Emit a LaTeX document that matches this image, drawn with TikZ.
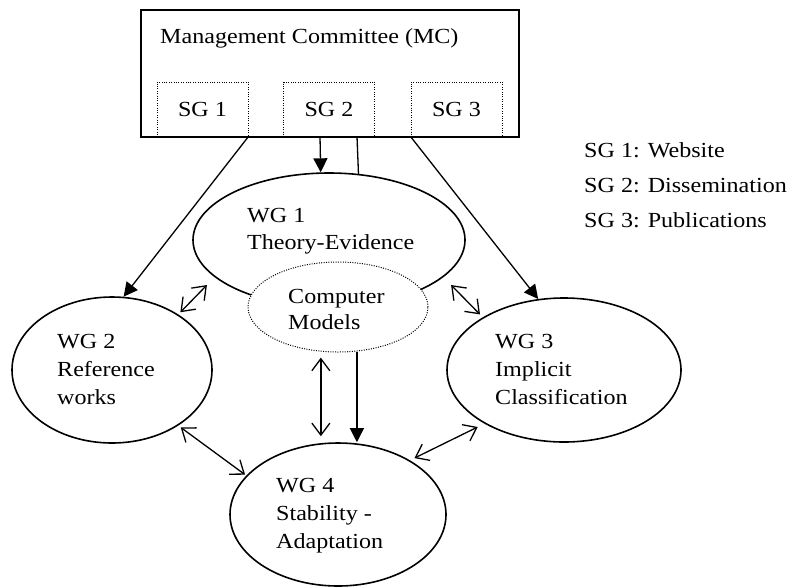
\documentclass[tikz,border=0pt]{standalone}
\usepackage{fontspec}
\setmainfont{Liberation Serif}[FakeStretch=1.12]
\usetikzlibrary{arrows.meta,shapes.geometric}
\begin{document}
\begin{tikzpicture}[x=1pt,y=-1pt,
  ell/.style={draw, ellipse, line width=1.6pt, inner sep=0pt},
  dots/.style={dash pattern=on 1pt off 1.4pt},
  txt/.style={anchor=base west, inner sep=0pt, font=\fontsize{21.5}{28}\selectfont},
  sgbox/.style={draw, dots, line width=1pt, fill=white, inner sep=0pt,
    minimum width=91pt, minimum height=54pt, font=\fontsize{21.5}{28}\selectfont},
  fa/.style={line width=1.3pt, -{Triangle[length=14pt,width=14pt]}},
  ln/.style={line width=1.3pt},
  da/.style={line width=1.3pt, {Straight Barb[length=12pt,width=18pt]}-{Straight Barb[length=12pt,width=18pt]}}]
\useasboundingbox (0,0) rectangle (794,587);

% Management committee
\node[draw, line width=1.6pt, minimum width=378pt, minimum height=127pt,
  anchor=north west, inner sep=0pt] (mc) at (140,9) {};
\node[txt] (mct) at (160,43) {Management Committee (MC)};
\node[sgbox] (sg1) at (202.5,109) {SG 1};
\node[sgbox] (sg2) at (329,109) {SG 2};
\node[sgbox] (sg3) at (456.5,109) {SG 3};

% legend
\node[txt] (lg1) at (584,157) {SG 1: Website};
\node[txt] (lg2) at (584,192) {SG 2: Dissemination};
\node[txt] (lg3) at (584,227) {SG 3: Publications};

% working groups
\node[ell, minimum width=272pt, minimum height=134pt] (wg1) at (329,240) {};
\node[ell, minimum width=200pt, minimum height=146pt] (wg2) at (112,370) {};
\node[ell, minimum width=234pt, minimum height=144pt] (wg3) at (564,370) {};
\node[ell, minimum width=216pt, minimum height=143pt] (wg4) at (338,514.5) {};
\node[ell, dots, line width=1pt, fill=white, minimum width=180pt, minimum height=90pt] (cm) at (338,307) {};

\node[txt] (wg1a) at (247,222) {WG 1};
\node[txt] (wg1b) at (247,249) {Theory-Evidence};
\node[txt] (cma) at (288,303) {Computer};
\node[txt] (cmb) at (288,329) {Models};
\node[txt] (wg2a) at (57,348) {WG 2};
\node[txt] (wg2b) at (57,376) {Reference};
\node[txt] (wg2c) at (57,404) {works};
\node[txt] (wg3a) at (495,348) {WG 3};
\node[txt] (wg3b) at (495,376) {Implicit};
\node[txt] (wg3c) at (495,404) {Classification};
\node[txt] (wg4a) at (276,492) {WG 4};
\node[txt] (wg4b) at (276,520) {Stability -};
\node[txt] (wg4c) at (276,548) {Adaptation};

% connectors
\draw[fa] ([xshift=-9pt]sg2.south) -- (wg1.97.7);
\draw[ln] ([xshift=28pt]sg2.south) -- (wg1.66.9);
\draw[fa] (sg1.south east) -- (wg2.81);
\draw[fa] (sg3.south west) -- (wg3.110);
\draw[da, shorten <=11pt, shorten >=3pt] (wg1.198) -- (wg2.40);
\draw[da, shorten <=11pt, shorten >=4pt] (wg1.-18) -- (wg3.147);
\draw[da, shorten <=6pt, shorten >=6pt] (cm.-111) -- (cm.-111 |- wg4.north);
\draw[fa] (cm.-67) -- (cm.-67 |- wg4.north);
\draw[da, shorten <=3pt, shorten >=1.5pt] (wg2.-40) -- (wg4.157.5);
\draw[da, shorten <=5pt, shorten >=7.5pt] (wg4.37) -- (wg3.214.4);
\end{tikzpicture}
\end{document}
